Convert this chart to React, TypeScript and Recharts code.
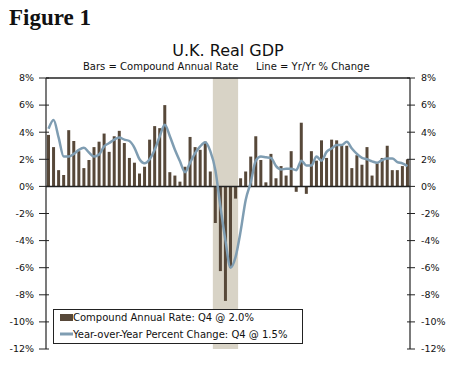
import React from 'react';
import { ComposedChart, Bar, Line, XAxis, YAxis, ReferenceArea, ReferenceLine } from 'recharts';

const years = [2000, 2001, 2002, 2003, 2004, 2005, 2006, 2007, 2008, 2009, 2010, 2011, 2012, 2013, 2014, 2015, 2016, 2017];
const quarterNames = ['Q1', 'Q2', 'Q3', 'Q4'];

// Bars: Compound annual rate (%)
const compoundAnnualRate = [
  3.8, 2.9, 1.2, 0.85,
  4.15, 3.35, 2.6, 1.35,
  1.95, 2.9, 3.3, 3.9,
  2.55, 3.7, 4.1, 3.2,
  2.1, 1.75, 0.95, 1.45,
  3.45, 4.45, 4.3, 6.0,
  1.05, 0.8, 0.35, 1.45,
  3.65, 2.9, 2.7, 3.3,
  1.1, -2.7, -6.25, -8.45,
  -6.0, -0.9, 0.6, 1.1,
  2.2, 3.7, 1.95, 0.3,
  2.4, 0.6, 1.5, 0.8,
  2.6, -0.4, 4.7, -0.55,
  2.6, 1.9, 3.4, 2.1,
  3.45, 3.4, 3.0, 3.0,
  1.35, 2.3, 1.6, 2.9,
  0.8, 1.7, 2.1, 3.0,
  1.2, 1.2, 1.5, 2.0,
];

// Line: Year-over-year % change
const yearOverYear = [
  4.25, 4.9, 3.6, 2.2,
  2.2, 2.4, 2.7, 2.85,
  2.5, 2.2, 2.35, 2.95,
  3.2, 3.45, 3.6, 3.45,
  3.35, 2.85, 2.0, 1.7,
  2.0, 2.7, 3.7, 4.55,
  3.7, 2.7, 1.85, 1.05,
  1.75, 2.45, 2.95, 3.25,
  2.6, 1.2, -1.5, -4.0,
  -6.0, -5.2, -3.3, -1.0,
  0.3, 1.9, 2.2, 2.15,
  2.1, 1.5, 1.25, 1.3,
  1.3, 1.2, 1.9, 1.55,
  1.55, 2.2, 1.9, 2.55,
  2.8, 3.05, 3.05, 3.3,
  2.8, 2.4, 2.1, 2.0,
  1.85, 1.75, 1.95, 2.05,
  2.05, 1.8, 1.7, 1.5,
];

const yTicks = [-12, -10, -8, -6, -4, -2, 0, 2, 4, 6, 8];
const yearTicks = [2000, 2001, 2002, 2003, 2004, 2005, 2006, 2007, 2008, 2009, 2010, 2011, 2012, 2013, 2014, 2015, 2016, 2017, 2018];
const yearLabels = [2000, 2002, 2004, 2006, 2008, 2010, 2012, 2014, 2016];
const recessionStart = 2008.25;
const recessionEnd = 2009.5;

const BAR_COLOR = '#574839';
const LINE_COLOR = '#7f9db2';
const SHADE_COLOR = '#d8d3c6';
const AXIS_COLOR = '#222';
const FONT = '"DejaVu Sans", Verdana, sans-serif';

const data = compoundAnnualRate.map((v, i) => ({
  q: `${years[Math.floor(i / 4)]} ${quarterNames[i % 4]}`,
  t: years[Math.floor(i / 4)] + (i % 4) / 4 + 0.125,
  car: v,
  yoy: yearOverYear[i],
}));

const LeftTick = (props: any) => {
  const { x, y, payload } = props;
  return (
    <g>
      <line x1={x - 7} x2={x + 3} y1={y} y2={y} stroke={AXIS_COLOR} strokeWidth={1} />
      <text x={x - 12} y={y} dy="0.35em" textAnchor="end" fontSize={9.5} fontFamily={FONT} fill="#111">
        {`${payload.value}%`}
      </text>
    </g>
  );
};

const RightTick = (props: any) => {
  const { x, y, payload } = props;
  return (
    <g>
      <line x1={x - 3} x2={x + 5} y1={y} y2={y} stroke={AXIS_COLOR} strokeWidth={1} />
      <text x={x + 11} y={y} dy="0.35em" textAnchor="start" fontSize={9.5} fontFamily={FONT} fill="#111">
        {`${payload.value}%`}
      </text>
    </g>
  );
};

export default function App() {
  const lastBar = compoundAnnualRate[compoundAnnualRate.length - 1];
  const lastLine = yearOverYear[yearOverYear.length - 1];
  return (
    <div style={{ position: 'absolute', left: 0, top: 0, width: 450, height: 375, background: '#fff' }}>
      <ComposedChart
        width={450}
        height={375}
        data={data}
        margin={{ top: 78, right: 0, bottom: 6, left: 0 }}
        barCategoryGap={0}
      >
        <XAxis xAxisId="cat" dataKey="q" type="category" hide />
        <XAxis
          xAxisId="yr"
          dataKey="t"
          type="number"
          domain={[2000, 2018]}
          allowDataOverflow
          ticks={yearTicks}
          interval={0}
          height={20}
          tickSize={3}
          tickMargin={6}
          tickLine={{ stroke: AXIS_COLOR, strokeWidth: 1 }}
          tickFormatter={(v: number) => (yearLabels.includes(v) ? String(v) : '')}
          tick={{ fontSize: 10, fontFamily: FONT, fill: '#111' }}
          axisLine={{ stroke: AXIS_COLOR, strokeWidth: 1.2 }}
        />
        <YAxis
          yAxisId="left"
          orientation="left"
          width={46}
          domain={[-12, 8]}
          ticks={yTicks}
          interval={0}
          allowDataOverflow
          tickSize={0}
          tickMargin={0}
          tickLine={false}
          tick={<LeftTick />}
          axisLine={{ stroke: AXIS_COLOR, strokeWidth: 1.2 }}
        />
        <YAxis
          yAxisId="right"
          orientation="right"
          width={40}
          domain={[-12, 8]}
          ticks={yTicks}
          interval={0}
          allowDataOverflow
          tickSize={0}
          tickMargin={0}
          tickLine={false}
          tick={<RightTick />}
          axisLine={{ stroke: AXIS_COLOR, strokeWidth: 1.2 }}
        />
        <ReferenceArea
          xAxisId="yr"
          yAxisId="left"
          x1={recessionStart}
          x2={recessionEnd}
          y1={-12}
          y2={8}
          fill={SHADE_COLOR}
          fillOpacity={1}
          stroke="none"
        />
        <Bar
          xAxisId="cat"
          yAxisId="left"
          dataKey="car"
          fill={BAR_COLOR}
          barSize={3}
          isAnimationActive={false}
        />
        <ReferenceLine xAxisId="cat" yAxisId="left" y={0} stroke={AXIS_COLOR} strokeWidth={1.5} />
        <Line
          xAxisId="cat"
          yAxisId="left"
          dataKey="yoy"
          type="monotone"
          stroke={LINE_COLOR}
          strokeWidth={2.5}
          dot={false}
          isAnimationActive={false}
        />
        <ReferenceLine xAxisId="cat" yAxisId="left" y={8} stroke={AXIS_COLOR} strokeWidth={1.5} />
      </ComposedChart>
      <svg
        width={450}
        height={375}
        style={{ position: 'absolute', left: 0, top: 0, pointerEvents: 'none' }}
      >
        <text x={9} y={25} fontSize={23} fontWeight="bold" fontFamily='"Liberation Serif", serif' fill="#111">
          Figure 1
        </text>
        <text x={228} y={56} textAnchor="middle" fontSize={16} fontFamily={FONT} fill="#111">
          U.K. Real GDP
        </text>
        <text x={83} y={70} fontSize={10} fontFamily={FONT} fill="#111">
          Bars = Compound Annual Rate
        </text>
        <text x={256} y={70} fontSize={10} fontFamily={FONT} fill="#111">
          Line = Yr/Yr % Change
        </text>
        <rect x={53.5} y={309.5} width={249} height={34} fill="#fff" stroke={AXIS_COLOR} strokeWidth={1} />
        <rect x={60} y={314} width={13} height={7} fill={BAR_COLOR} />
        <text x={73} y={321} fontSize={10} fontFamily={FONT} fill="#111">
          {`Compound Annual Rate: Q4 @ ${lastBar.toFixed(1)}%`}
        </text>
        <line x1={60} x2={73} y1={334} y2={334} stroke={LINE_COLOR} strokeWidth={3} />
        <text x={73} y={337.5} fontSize={10} fontFamily={FONT} fill="#111">
          {`Year-over-Year Percent Change: Q4 @ ${lastLine.toFixed(1)}%`}
        </text>
      </svg>
    </div>
  );
}
